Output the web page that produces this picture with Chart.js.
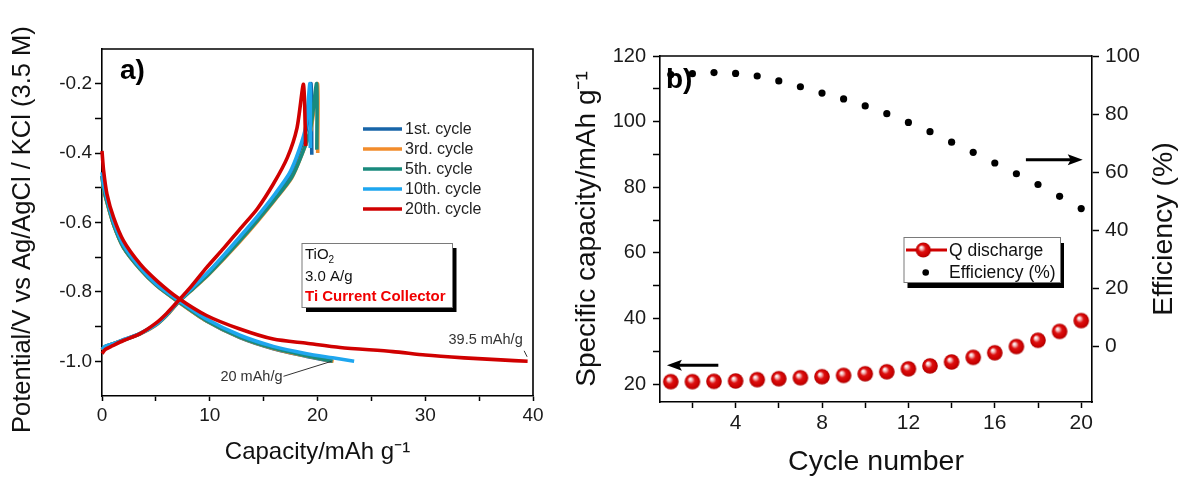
<!DOCTYPE html>
<html><head><meta charset="utf-8">
<script src="https://cdn.jsdelivr.net/npm/chart.js@4.4.1/dist/chart.umd.min.js"></script>
<style>
html,body{margin:0;padding:0;background:#fff;}
#wrap{position:relative;width:1181px;height:479px;overflow:hidden;}
.pane{position:absolute;top:0;}
</style></head><body>
<div id="wrap">
<div class="pane" style="left:0;width:560px;height:479px"><canvas id="ca" width="560" height="479"></canvas></div>
<div class="pane" style="left:560px;width:621px;height:479px"><canvas id="cb" width="621" height="479"></canvas></div>
</div>
<script>
// ---------------- DATA: panel a (capacity mAh/g vs potential V) ----------------
const cycleNames = ['1st. cycle','3rd. cycle','5th. cycle','10th. cycle','20th. cycle'];

const charge1Cap  = [0, 0.3, 1.0, 2.0, 3.5, 5.0, 6.0, 7.1, 8.5, 9.7, 11.3, 12.8, 14.4, 16.0, 17.5, 18.4, 19.0, 19.4, 19.47];
const charge1V    = [-0.968,-0.958,-0.95,-0.938,-0.92,-0.893,-0.865,-0.827,-0.785,-0.75,-0.697,-0.645,-0.587,-0.525,-0.461,-0.39,-0.327,-0.2,-0.405];
const charge3Cap  = [0, 0.3, 1.0, 2.0, 3.5, 5.0, 6.0, 7.1, 8.5, 9.7, 11.3, 12.8, 14.4, 16.0, 17.6, 18.6, 19.4, 20.0, 20.02];
const charge3V    = [-0.968,-0.958,-0.95,-0.939,-0.922,-0.896,-0.868,-0.83,-0.79,-0.756,-0.705,-0.655,-0.598,-0.537,-0.472,-0.4,-0.33,-0.2,-0.4];
const charge5Cap  = [0, 0.3, 1.0, 2.0, 3.5, 5.0, 6.0, 7.1, 8.5, 9.7, 11.3, 12.8, 14.4, 16.0, 17.6, 18.6, 19.35, 19.92, 19.94];
const charge5V    = [-0.966,-0.957,-0.95,-0.939,-0.921,-0.895,-0.867,-0.829,-0.789,-0.755,-0.703,-0.652,-0.595,-0.535,-0.47,-0.4,-0.33,-0.2,-0.39];
const charge10Cap = [0, 0.3, 1.0, 2.0, 3.5, 5.0, 6.0, 7.1, 8.5, 9.7, 11.3, 12.8, 14.4, 16.0, 17.4, 18.3, 18.9, 19.3, 19.33];
const charge10V   = [-0.966,-0.957,-0.95,-0.938,-0.921,-0.894,-0.865,-0.827,-0.784,-0.748,-0.694,-0.641,-0.583,-0.52,-0.458,-0.39,-0.325,-0.2,-0.385];
const charge20Cap = [0, 0.3, 1.0, 2.0, 3.5, 5.0, 6.0, 7.1, 8.2, 9.7, 11.3, 12.8, 14.4, 15.9, 17.2, 18.1, 18.7, 18.9];
const charge20V   = [-0.978,-0.966,-0.955,-0.94,-0.921,-0.89,-0.862,-0.825,-0.787,-0.73,-0.674,-0.619,-0.561,-0.489,-0.413,-0.327,-0.202,-0.38];

const discharge1Cap  = [0, 0.15, 0.46, 1.08, 2.0, 3.55, 5.1, 7.0, 9.7, 12.8, 15.9, 19.0, 21.3];
const discharge1V    = [-0.465,-0.5,-0.54,-0.606,-0.672,-0.734,-0.782,-0.826,-0.884,-0.932,-0.964,-0.986,-1.0];
const discharge3Cap  = [0, 0.15, 0.46, 1.08, 2.0, 3.55, 5.1, 7.0, 9.7, 12.8, 15.9, 19.0, 21.5];
const discharge3V    = [-0.468,-0.503,-0.542,-0.607,-0.673,-0.735,-0.783,-0.827,-0.884,-0.931,-0.963,-0.985,-1.0];
const discharge5Cap  = [0, 0.15, 0.46, 1.08, 2.0, 3.55, 5.1, 7.0, 9.7, 12.8, 15.9, 19.0, 21.4];
const discharge5V    = [-0.466,-0.501,-0.541,-0.606,-0.672,-0.734,-0.782,-0.826,-0.883,-0.93,-0.962,-0.984,-1.0];
const discharge10Cap = [0, 0.15, 0.46, 1.08, 2.0, 3.55, 5.1, 7.0, 9.7, 12.8, 15.9, 19.0, 21.4, 23.4];
const discharge10V   = [-0.455,-0.49,-0.53,-0.598,-0.665,-0.73,-0.779,-0.822,-0.878,-0.925,-0.957,-0.978,-0.99,-1.0];
const discharge20Cap = [0, 0.15, 0.46, 1.08, 2.0, 3.55, 5.1, 7.0, 9.7, 12.8, 15.9, 19.0, 22.1, 27.0, 30.0, 33.6, 37.0, 39.5];
const discharge20V   = [-0.394,-0.451,-0.518,-0.586,-0.653,-0.72,-0.768,-0.816,-0.868,-0.907,-0.936,-0.948,-0.96,-0.972,-0.982,-0.99,-0.996,-1.0];

const aXTicks = [0, 5, 10, 15, 20, 25, 30, 35, 40];
const aXLabels = [0, 10, 20, 30, 40];
const aYTicks = [-1.0, -0.9, -0.8, -0.7, -0.6, -0.5, -0.4, -0.3, -0.2];
const aYLabels = [-1.0, -0.8, -0.6, -0.4, -0.2];
const annotSmall = {text: '20 mAh/g', cap: 21.3, v: -1.0};
const annotLarge = {text: '39.5 mAh/g', cap: 39.5, v: -1.0};

// ---------------- DATA: panel b ----------------
const cycles = [1, 2, 3, 4, 5, 6, 7, 8, 9, 10, 11, 12, 13, 14, 15, 16, 17, 18, 19, 20];
const qDischarge = [20.8, 20.8, 20.9, 21.0, 21.4, 21.7, 22.0, 22.3, 22.7, 23.2, 23.8, 24.7, 25.6, 26.8, 28.2, 29.6, 31.5, 33.4, 36.1, 39.4];
const efficiency = [93.6, 93.9, 94.3, 94.0, 93.1, 91.4, 89.4, 87.2, 85.2, 82.8, 80.1, 77.1, 73.9, 70.3, 66.8, 63.1, 59.4, 55.7, 51.6, 47.4];
const bXTicks = [2, 4, 6, 8, 10, 12, 14, 16, 18, 20];
const bXLabels = [4, 8, 12, 16, 20];
const bYTicks = [20, 30, 40, 50, 60, 70, 80, 90, 100, 110, 120];
const bYLabels = [20, 40, 60, 80, 100, 120];
const bY2Ticks = [0, 20, 40, 60, 80, 100];

// ---------------- styles ----------------
const FONT = "'Liberation Sans', Arial, Helvetica, sans-serif";
const cycleColors = ['#1765a8', '#f28c2c', '#198a7d', '#1ea6ef', '#d00000'];
const cycleOrder = [4, 3, 2, 1, 0];
Chart.defaults.font.family = FONT;
Chart.defaults.color = '#1a1a1a';

function pts(xs, ys) { return xs.map((x, i) => ({x: x, y: ys[i]})); }
function isIn(list, v) { return list.some(m => Math.abs(m - v) < 1e-9); }
function setTicks(list) { return function (scale) { scale.ticks = list.map(v => ({value: v})); }; }

const chargeCaps = [charge1Cap, charge3Cap, charge5Cap, charge10Cap, charge20Cap];
const chargeVs = [charge1V, charge3V, charge5V, charge10V, charge20V];
const dischargeCaps = [discharge1Cap, discharge3Cap, discharge5Cap, discharge10Cap, discharge20Cap];
const dischargeVs = [discharge1V, discharge3V, discharge5V, discharge10V, discharge20V];

const aDatasets = cycleNames.map((name, k) => ({
  label: name,
  data: pts(chargeCaps[k], chargeVs[k]).concat([{x: dischargeCaps[k][0], y: null}], pts(dischargeCaps[k], dischargeVs[k])),
  showLine: true, spanGaps: false, borderColor: cycleColors[k], backgroundColor: cycleColors[k],
  borderWidth: 3.6, pointRadius: 0, tension: 0.25, order: cycleOrder[k], clip: 4
}));

function drawShadowBox(ctx, x, y, w, h, dx, dy) {
  ctx.fillStyle = '#000';
  ctx.fillRect(x + dx, y + dy, w, h);
  ctx.fillStyle = '#fff';
  ctx.fillRect(x, y, w, h);
  ctx.strokeStyle = '#7a7a7a'; ctx.lineWidth = 1;
  ctx.strokeRect(x + 0.5, y + 0.5, w, h);
}

const panelAPlugin = {
  id: 'panelA',
  afterDraw(chart) {
    const {ctx, chartArea: ca, scales} = chart;
    ctx.save();
    ctx.strokeStyle = '#000'; ctx.lineWidth = 1.6;
    ctx.beginPath(); ctx.moveTo(ca.left, ca.top); ctx.lineTo(ca.right, ca.top); ctx.lineTo(ca.right, ca.bottom); ctx.stroke();
    ctx.fillStyle = '#000'; ctx.textAlign = 'left'; ctx.textBaseline = 'alphabetic';
    ctx.font = 'bold 28px ' + FONT;
    ctx.fillText('a)', 120, 79);
    // legend
    ctx.textBaseline = 'middle';
    ctx.font = '16px ' + FONT;
    cycleNames.forEach((n, k) => {
      const y = 129 + 20 * k;
      ctx.strokeStyle = cycleColors[k]; ctx.lineWidth = 3.5;
      ctx.beginPath(); ctx.moveTo(363, y); ctx.lineTo(402, y); ctx.stroke();
      ctx.fillStyle = '#222'; ctx.fillText(n, 405, y + 1);
    });
    // info box
    drawShadowBox(ctx, 301.5, 243, 150.5, 64, 4.5, 5);
    ctx.fillStyle = '#111'; ctx.font = '15px ' + FONT;
    ctx.fillText('TiO', 305, 255);
    const w = ctx.measureText('TiO').width;
    ctx.font = '10px ' + FONT; ctx.fillText('2', 305 + w, 260);
    ctx.font = '15px ' + FONT; ctx.fillText('3.0 A/g', 305, 277);
    ctx.fillStyle = '#f00000'; ctx.font = 'bold 15px ' + FONT;
    ctx.fillText('Ti Current Collector', 305, 297);
    // annotations
    const xs = scales.x, ys = scales.y;
    ctx.strokeStyle = '#333'; ctx.lineWidth = 1; ctx.fillStyle = '#333'; ctx.font = '14.5px ' + FONT;
    let px = xs.getPixelForValue(annotSmall.cap), py = ys.getPixelForValue(annotSmall.v);
    ctx.beginPath(); ctx.moveTo(px, py); ctx.lineTo(px - 48, py + 15); ctx.stroke();
    ctx.textAlign = 'right'; ctx.fillText(annotSmall.text, px - 49, py + 16);
    px = xs.getPixelForValue(annotLarge.cap); py = ys.getPixelForValue(annotLarge.v);
    ctx.beginPath(); ctx.moveTo(px - 0.5, py - 4.5); ctx.lineTo(px - 3.5, py - 10.5); ctx.stroke();
    ctx.textAlign = 'center'; ctx.fillText(annotLarge.text, px - 42, py - 21);
    ctx.restore();
  }
};

new Chart(document.getElementById('ca'), {
  type: 'scatter',
  data: {datasets: aDatasets},
  options: {
    responsive: false, animation: false, devicePixelRatio: 1,
    layout: {padding: {left: 0, right: 27, top: 49, bottom: 0}},
    plugins: {legend: {display: false}, tooltip: {enabled: false}},
    scales: {
      x: {
        type: 'linear', min: 0, max: 40,
        afterBuildTicks: setTicks(aXTicks),
        afterFit(s) { s.height = 83; },
        grid: {display: true, drawOnChartArea: false, drawTicks: true, tickLength: 5, tickColor: '#000', tickWidth: 1.5},
        border: {display: true, color: '#000', width: 1.6},
        ticks: {padding: 3, font: {size: 19}, color: '#1a1a1a', maxRotation: 0, autoSkip: false,
          callback: v => isIn(aXLabels, v) ? String(v) : ''},
        title: {display: true, text: 'Capacity/mAh g\u207B\u00B9', font: {size: 24}, color: '#111', padding: {top: 0, bottom: 12}}
      },
      y: {
        type: 'linear', min: -1.1, max: -0.1,
        afterBuildTicks: setTicks(aYTicks),
        afterFit(s) { s.width = 102; },
        grid: {display: true, drawOnChartArea: false, drawTicks: true, tickLength: 7, tickColor: '#000', tickWidth: 1.5},
        border: {display: true, color: '#000', width: 1.6},
        ticks: {padding: 3, font: {size: 19}, color: '#1a1a1a', autoSkip: false,
          callback: v => isIn(aYLabels, v) ? v.toFixed(1) : ''},
        title: {display: true, text: 'Potential/V vs Ag/AgCl / KCl (3.5 M)  ', font: {size: 25.5}, color: '#111', padding: {top: 8, bottom: 0}}
      }
    }
  },
  plugins: [panelAPlugin]
});

// ---------------- panel b ----------------
function makeSphere(r) {
  const c = document.createElement('canvas');
  const s = Math.ceil(2 * r + 2); c.width = s; c.height = s;
  const g = c.getContext('2d'); const cx = s / 2, cy = s / 2;
  const grad = g.createRadialGradient(cx - r * 0.3, cy - r * 0.35, r * 0.05, cx, cy, r);
  grad.addColorStop(0, '#ffffff');
  grad.addColorStop(0.2, '#f2b0b0');
  grad.addColorStop(0.45, '#dd1111');
  grad.addColorStop(0.8, '#cc0000');
  grad.addColorStop(1, '#a80000');
  g.fillStyle = grad; g.beginPath(); g.arc(cx, cy, r, 0, Math.PI * 2); g.fill();
  return c;
}
const sphere = makeSphere(7.8);
const sphereSmall = makeSphere(7.6);

function arrow(ctx, x1, y, x2) {
  const dir = Math.sign(x2 - x1);
  ctx.strokeStyle = '#000'; ctx.fillStyle = '#000'; ctx.lineWidth = 3;
  ctx.beginPath(); ctx.moveTo(x1, y); ctx.lineTo(x2 - dir * 10, y); ctx.stroke();
  ctx.beginPath(); ctx.moveTo(x2, y); ctx.lineTo(x2 - dir * 15, y - 5.5); ctx.lineTo(x2 - dir * 12, y); ctx.lineTo(x2 - dir * 15, y + 5.5); ctx.closePath(); ctx.fill();
}

const panelBPlugin = {
  id: 'panelB',
  afterDraw(chart) {
    const {ctx, chartArea: ca, scales} = chart;
    ctx.save();
    ctx.strokeStyle = '#000'; ctx.lineWidth = 1.6;
    ctx.beginPath(); ctx.moveTo(ca.left, ca.top); ctx.lineTo(ca.right, ca.top); ctx.stroke();
    // right axis title (reads bottom to top)
    ctx.save();
    ctx.translate(604, (ca.top + ca.bottom) / 2);
    ctx.rotate(-Math.PI / 2);
    ctx.textAlign = 'center'; ctx.textBaseline = 'middle'; ctx.fillStyle = '#111';
    ctx.font = '28.5px ' + FONT;
    ctx.fillText('Efficiency (%)', 0, 0);
    ctx.restore();
    // b)
    ctx.fillStyle = '#000'; ctx.textAlign = 'left'; ctx.textBaseline = 'alphabetic';
    ctx.font = 'bold 28px ' + FONT;
    ctx.fillText('b)', 106, 88);
    // arrows
    const xs = scales.x, yL = scales.y, yR = scales.y2;
    arrow(ctx, xs.getPixelForValue(3.2), yL.getPixelForValue(25.8), xs.getPixelForValue(0.82));
    arrow(ctx, xs.getPixelForValue(17.44), yR.getPixelForValue(64.2), xs.getPixelForValue(20.07));
    // legend
    drawShadowBox(ctx, 343.5, 237, 156.5, 45, 4, 6);
    ctx.strokeStyle = '#d00000'; ctx.lineWidth = 3;
    ctx.beginPath(); ctx.moveTo(346, 250); ctx.lineTo(387, 250); ctx.stroke();
    ctx.drawImage(sphereSmall, 363.3 - sphereSmall.width / 2, 250 - sphereSmall.height / 2);
    ctx.fillStyle = '#000'; ctx.beginPath(); ctx.arc(365.7, 272.5, 3.3, 0, Math.PI * 2); ctx.fill();
    ctx.fillStyle = '#111'; ctx.font = '17.5px ' + FONT; ctx.textBaseline = 'middle';
    ctx.fillText('Q discharge', 389, 251);
    ctx.fillText('Efficiency (%)', 389, 273);
    ctx.restore();
  }
};

new Chart(document.getElementById('cb'), {
  type: 'scatter',
  data: {datasets: [
    {label: 'Q discharge', data: pts(cycles, qDischarge), yAxisID: 'y', pointStyle: sphere, pointRadius: 7.8, showLine: false,
     borderColor: '#d00000', backgroundColor: '#d00000', clip: 10},
    {label: 'Efficiency (%)', data: pts(cycles, efficiency), yAxisID: 'y2', pointStyle: 'circle', pointRadius: 3.6,
     borderWidth: 0, backgroundColor: '#000', borderColor: '#000', showLine: false, clip: 10}
  ]},
  options: {
    responsive: false, animation: false, devicePixelRatio: 1,
    layout: {padding: {left: 0, right: 0, top: 56, bottom: 0}},
    plugins: {legend: {display: false}, tooltip: {enabled: false}},
    scales: {
      x: {
        type: 'linear', min: 0.5, max: 20.5,
        afterBuildTicks: setTicks(bXTicks),
        afterFit(s) { s.height = 77; },
        grid: {display: true, drawOnChartArea: false, drawTicks: true, tickLength: 6, tickColor: '#000', tickWidth: 1.5},
        border: {display: true, color: '#000', width: 1.6},
        ticks: {padding: 3, font: {size: 21}, color: '#1a1a1a', maxRotation: 0, autoSkip: false,
          callback: v => isIn(bXLabels, v) ? String(v) : ''},
        title: {display: true, text: 'Cycle number', font: {size: 28.5}, color: '#111', padding: {top: 0, bottom: 0}}
      },
      y: {
        type: 'linear', position: 'left', min: 14.6, max: 120,
        afterBuildTicks: setTicks(bYTicks),
        afterFit(s) { s.width = 100; },
        grid: {display: true, drawOnChartArea: false, drawTicks: true, tickLength: 7, tickColor: '#000', tickWidth: 1.5},
        border: {display: true, color: '#000', width: 1.6},
        ticks: {padding: 7, font: {size: 20}, color: '#1a1a1a', autoSkip: false,
          callback: v => isIn(bYLabels, v) ? String(v) : ''},
        title: {display: true, text: 'Specific capacity/mAh g\u207B\u00B9', font: {size: 28}, color: '#111', padding: {top: 10, bottom: 0}}
      },
      y2: {
        type: 'linear', position: 'right', min: -19.3, max: 100,
        afterBuildTicks: setTicks(bY2Ticks),
        afterFit(s) { s.width = 89; },
        grid: {display: true, drawOnChartArea: false, drawTicks: true, tickLength: 7, tickColor: '#000', tickWidth: 1.5},
        border: {display: true, color: '#000', width: 1.6},
        ticks: {padding: 6, font: {size: 21}, color: '#1a1a1a', autoSkip: false, callback: v => String(v)},
        title: {display: false}
      }
    }
  },
  plugins: [panelBPlugin]
});
</script>
</body></html>
